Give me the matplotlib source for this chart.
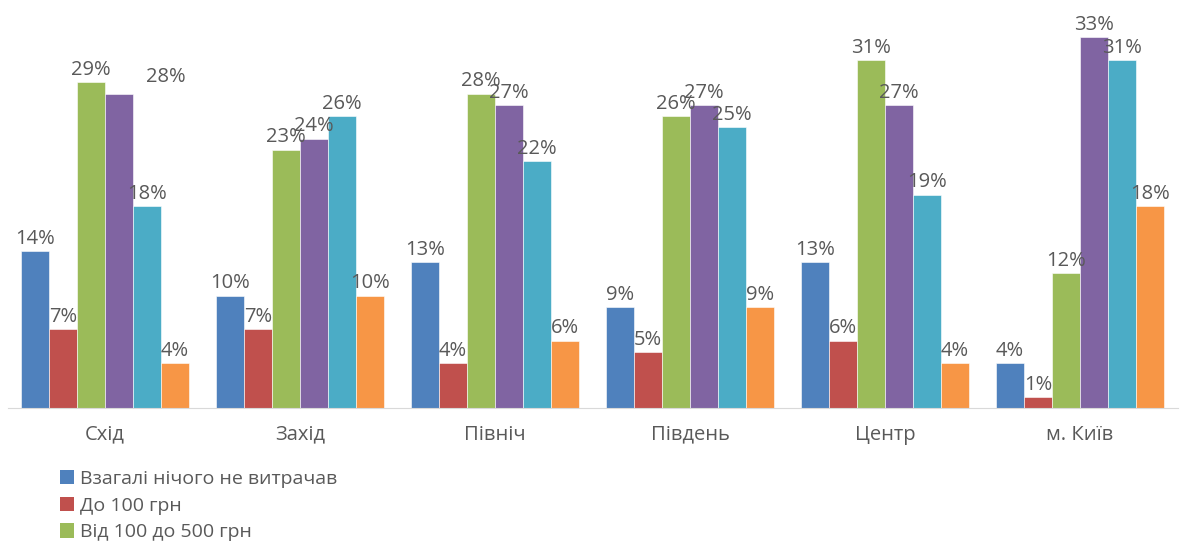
import matplotlib.pyplot as plt
import numpy as np
from matplotlib.patches import Patch

plt.rcParams['font.family'] = ['Open Sans', 'DejaVu Sans']

regions = ['Схід', 'Захід', 'Північ', 'Південь', 'Центр', 'м. Київ']
series_names = ['Взагалі нічого не витрачав', 'До 100 грн', 'Від 100 до 500 грн',
                'Від 500 до 1000 грн', 'Від 1000 до 5000 грн', 'Понад 5000 грн']
nothing = [14, 10, 13, 9, 13, 4]
upto_100 = [7, 7, 4, 5, 6, 1]
from_100_500 = [29, 23, 28, 26, 31, 12]
from_500_1000 = [28, 24, 27, 27, 27, 33]
from_1000_5000 = [18, 26, 22, 25, 19, 31]
over_5000 = [4, 10, 6, 9, 4, 18]

values = [nothing, upto_100, from_100_500, from_500_1000, from_1000_5000, over_5000]
colors = ['#4F81BD', '#C0504D', '#9BBB59', '#8064A2', '#4BACC6', '#F79646']

# label nudges (series, group) -> (dx, dy), as Excel moved them
nudges = {(3, 0): (0.24, 0.4)}

fig = plt.figure(figsize=(11.83, 5.43), dpi=100)
ax = fig.add_axes([7.5 / 1183, 1 - 408 / 543, 1170 / 1183, 393 / 543])

x = np.arange(len(regions))
w = 0.1436
for i, (vals, c) in enumerate(zip(values, colors)):
    pos = x + (i - 2.5) * w
    ax.bar(pos, vals, width=w, color=c, edgecolor='white', linewidth=0.4)
    for j, (p, v) in enumerate(zip(pos, vals)):
        dx, dy = nudges.get((i, j), (0, 0))
        ax.text(p + dx, v + 0.2 + dy, f'{v}%', ha='center', va='bottom',
                fontsize=14.5, color='#595959')

ax.set_xlim(-0.5, 5.5)
ax.set_ylim(0, 35)
ax.set_xticks(x)
ax.set_xticklabels(regions, fontsize=14.5, color='#595959')
ax.tick_params(axis='x', length=0, pad=12)
ax.set_yticks([])
for s in ['top', 'right', 'left']:
    ax.spines[s].set_visible(False)
ax.spines['bottom'].set_color('#D9D9D9')

handles = [Patch(facecolor=c, edgecolor='none') for c in colors]
fig.legend(handles, series_names, loc='upper left',
           bbox_to_anchor=(52 / 1183, 1 - 462 / 543), frameon=False,
           fontsize=14, labelcolor='#595959', handlelength=0.75,
           handleheight=0.75, handletextpad=0.3, labelspacing=0.45,
           borderaxespad=0)

fig.savefig('out.png', dpi=100)
